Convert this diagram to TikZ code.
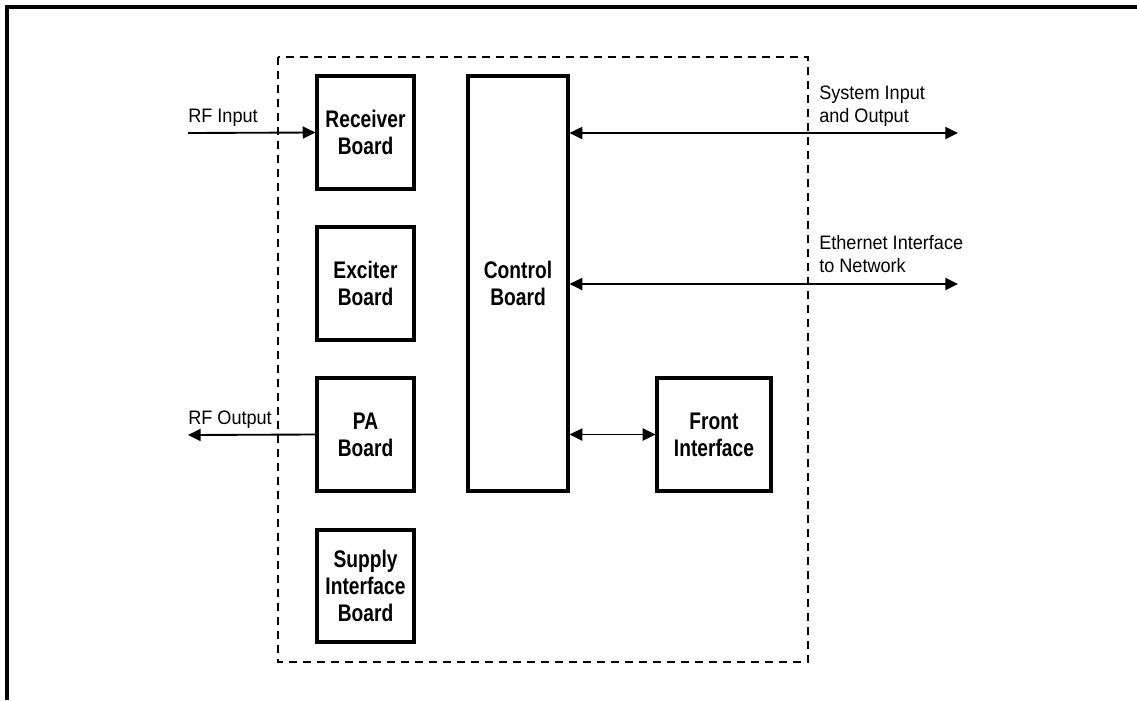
\documentclass[tikz,border=0pt]{standalone}
\usepackage{fontspec}
\setmainfont[FakeStretch=0.93]{Liberation Sans}
\newfontfamily\boardfont[FakeStretch=0.8]{Liberation Sans}
\usetikzlibrary{arrows.meta}

\begin{document}
\begin{tikzpicture}[x=0.75pt, y=-0.75pt, >={Triangle[length=9.5pt, width=9pt]},
		board/.style={draw, line width=2.4pt, align=center, inner sep=0pt,
			font=\boardfont\bfseries\fontsize{18}{20.25}\selectfont},
		link/.style={line width=1.4pt},
		lbl/.style={align=left, inner sep=0pt, font=\fontsize{14.6}{17.4}\selectfont},
		dashbox/.style={line width=1.1pt, dash pattern=on 6pt off 4.5pt}]
				\useasboundingbox (0,0) rectangle (1137,700);
				
				% Rahmen
				\draw[line width=2.3pt] (7,700) -- (7,7) -- (1137,7);
				
				% gestrichelte Gehaeusegrenze
				\draw[dashbox] (278,57) rectangle (808,662);
				
				% Baugruppen
				\node[board, minimum width=97pt*0.75, minimum height=113pt*0.75] (recv) at (365.5,132.5) {Receiver\\Board};
				\node[board, minimum width=97pt*0.75, minimum height=113pt*0.75] (exc) at (365.5,283.5) {Exciter\\Board};
				\node[board, minimum width=97pt*0.75, minimum height=113pt*0.75] (pa) at (365.5,434.5) {PA\\Board};
				\node[board, minimum width=97pt*0.75, minimum height=112pt*0.75] (supply) at (365.5,586) {Supply\\Interface\\Board};
				\node[board, minimum width=100pt*0.75, minimum height=415pt*0.75] (ctrl) at (518,283.5) {Control\\Board};
				\node[board, minimum width=114pt*0.75, minimum height=113pt*0.75] (front) at (714,434.5) {Front\\Interface};
				
				% freie Enden
				\coordinate (rfin) at (188,133);
				\coordinate (rfout) at (188,435);
				\coordinate (sysio) at (958,133);
				\coordinate (eth) at (958,284);
				
				% Verbindungen
				\draw[link, ->] (rfin) -- (recv.west);
				\draw[link, ->] (pa.west) -- (rfout);
				\draw[link, <->] (ctrl.east |- sysio) -- (sysio);
				\draw[link, <->] (ctrl.east |- eth) -- (eth);
				\draw[link, <->] (ctrl.east |- front) -- (front.west);
				
				% Beschriftungen
				\node[lbl, anchor=base west] (rfinlbl) at (188,122) {RF Input};
				\node[lbl, anchor=base west] (rfoutlbl) at (188,424) {RF Output};
				\node[lbl, anchor=base west] (sysiolbl) at (819,122.5) {System Input\\and Output};
				\node[lbl, anchor=base west] (ethlbl) at (819,272.5) {Ethernet Interface\\to Network};
			\end{tikzpicture}
\end{document}
